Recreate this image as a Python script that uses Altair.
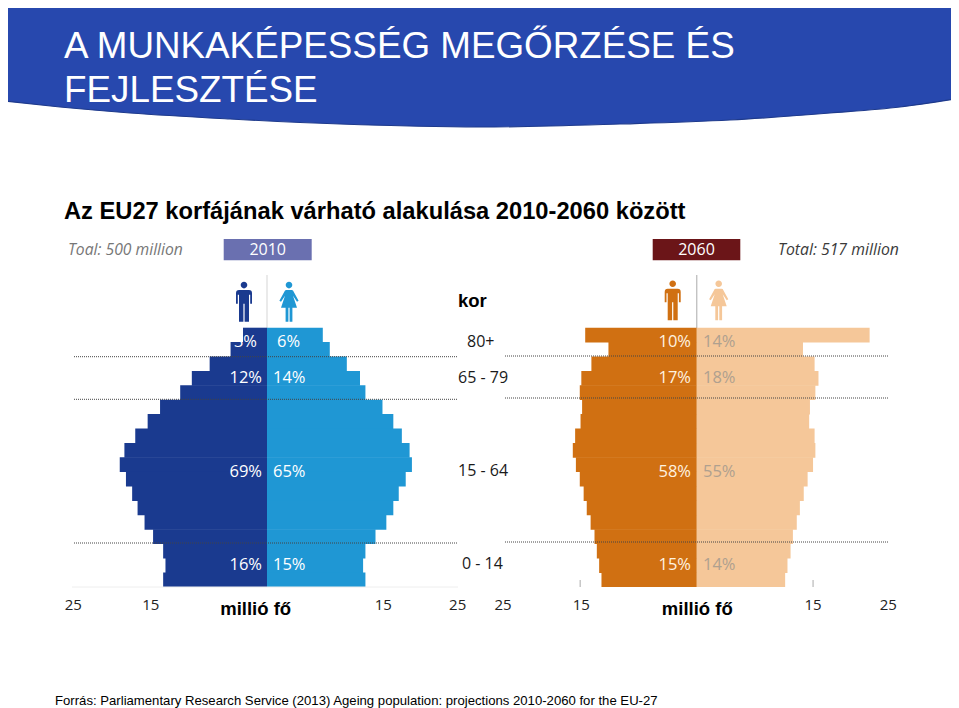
import altair as alt
import pandas as pd

# --- values (millions of people per five-year band, oldest first)
male_2010 = [3.1, 4.7, 7.4, 9.7, 11.2, 13.8, 15.4, 17.0, 18.4, 19.0, 18.2, 17.4, 16.7, 15.8, 14.7, 13.4, 13.1, 13.4]
female_2010 = [7.2, 8.1, 10.3, 12.0, 12.7, 14.9, 16.3, 17.4, 18.4, 18.7, 17.9, 17.0, 16.3, 15.4, 14.0, 12.7, 12.4, 12.7]
male_2060 = [14.4, 11.4, 13.6, 14.9, 15.1, 14.8, 15.0, 15.7, 16.0, 15.6, 15.1, 14.6, 14.2, 13.7, 13.2, 12.9, 12.6, 12.3]
female_2060 = [22.3, 13.7, 15.2, 15.7, 15.3, 14.6, 14.5, 15.2, 15.3, 15.0, 14.3, 13.8, 13.3, 12.9, 12.4, 12.1, 11.7, 11.4]

age_labels = ["80+", "65 - 79", "15 - 64", "0 - 14"]
pct_male_2010 = ["3%", "12%", "69%", "16%"]
pct_female_2010 = ["6%", "14%", "65%", "15%"]
pct_male_2060 = ["10%", "17%", "58%", "15%"]
pct_female_2060 = ["14%", "18%", "55%", "14%"]
tick_labels = ["25", "15", "15", "25"]
ticks_2010 = [-25, -15, 15, 24.6]
ticks_2060 = [-25, -14.9, 15, 24.7]

banner_x = [4, 60, 130, 230, 340, 480, 620, 730, 830, 900, 955]
banner_bottom = [101, 107, 113, 119, 124, 127, 124, 120, 113, 107, 99]

title_lines = ["A MUNKAKÉPESSÉG MEGŐRZÉSE ÉS", "FEJLESZTÉSE"]
subtitle = "Az EU27 korfájának várható alakulása 2010-2060 között"
source = "Forrás: Parliamentary Research Service (2013) Ageing population: projections 2010-2060 for the EU-27"

C_2010, C_2060 = 267.0, 696.8
PX_PER_M = 7.75
ROW_TOP, ROW_H = 327.7, 14.4
W, H = 943, 700
GRID_2010 = [356.7, 399.3, 543.0]
GRID_2060 = [356.0, 398.0, 542.0]
LABEL_Y = [342, 378, 472, 565]

SANS = "Liberation Sans"
OPEN = "Open Sans"

xs = alt.Scale(domain=[8, 8 + W], range=[0, W])
ys = alt.Scale(domain=[8 + H, 8], range=[H, 0])
X = lambda f="x": alt.X(f"{f}:Q", scale=xs, axis=None)
Y = lambda f="y": alt.Y(f"{f}:Q", scale=ys, axis=None)
X2 = alt.X2("x2:Q")
Y2 = alt.Y2("y2:Q")


def text_layer(rows, size, color, font=OPEN, align="left", weight="normal", style="normal", baseline="alphabetic"):
    return alt.Chart(pd.DataFrame(rows, columns=["x", "y", "t"])).mark_text(
        fontSize=size, color=color, font=font, align=align, fontWeight=weight,
        fontStyle=style, baseline=baseline,
    ).encode(x=X(), y=Y(), text="t:N")


def bars(values, centre, sign, color):
    rows = []
    for i, v in enumerate(values):
        rows.append({"x": centre, "x2": centre + sign * v * PX_PER_M,
                     "y": ROW_TOP + i * ROW_H, "y2": ROW_TOP + (i + 1) * ROW_H + (0.4 if i < len(values) - 1 else 0)})
    return alt.Chart(pd.DataFrame(rows)).mark_rect(color=color).encode(x=X(), x2=X2, y=Y(), y2=Y2)


def rect(x, x2, y, y2, color):
    return alt.Chart(pd.DataFrame([{"x": x, "x2": x2, "y": y, "y2": y2}])).mark_rect(color=color).encode(
        x=X(), x2=X2, y=Y(), y2=Y2)


def rule(x, x2, y, y2, color, width=1.0, dash=None):
    kw = {"strokeDash": dash} if dash else {}
    return alt.Chart(pd.DataFrame([{"x": x, "x2": x2, "y": y, "y2": y2}])).mark_rule(
        color=color, strokeWidth=width, **kw).encode(x=X(), x2=X2, y=Y(), y2=Y2)


HEAD = "M-0.165,-0.83 A0.165,0.165 0 1 1 0.165,-0.83 A0.165,0.165 0 1 1 -0.165,-0.83 Z "
MAN = HEAD + ("M-0.25,-0.58 L0.25,-0.58 Q0.4,-0.58 0.4,-0.42 L0.4,0.1 L0.31,0.1 L0.31,-0.35 L0.25,-0.35 "
              "L0.25,1 L0.03,1 L0.03,0.1 L-0.03,0.1 L-0.03,1 L-0.25,1 L-0.25,-0.35 L-0.31,-0.35 L-0.31,0.1 "
              "L-0.4,0.1 L-0.4,-0.42 Q-0.4,-0.58 -0.25,-0.58 Z")
WOMAN = HEAD + ("M-0.14,-0.58 L0.14,-0.58 L0.2,-0.56 L0.48,-0.05 L0.4,0 L0.2,-0.3 L0.4,0.3 L0.17,0.3 L0.17,1 "
                "L0.03,1 L0.03,0.3 L-0.03,0.3 L-0.03,1 L-0.17,1 L-0.17,0.3 L-0.4,0.3 L-0.2,-0.3 L-0.4,0 "
                "L-0.48,-0.05 L-0.2,-0.56 Z")


def icon(x, y, path, color):
    return alt.Chart(pd.DataFrame([{"x": x, "y": y}])).mark_point(
        shape=path, size=1600, filled=True, color=color, opacity=1, strokeWidth=0).encode(x=X(), y=Y())


layers = []

# banner
banner = pd.DataFrame({"x": banner_x, "y": banner_bottom, "y2": [1] * len(banner_x)})
layers.append(alt.Chart(banner).mark_area(color="#2748AE", interpolate="monotone", clip=True).encode(x=X(), y=Y(), y2=Y2))
layers.append(alt.Chart(banner).mark_line(color="#1E3A8C", strokeWidth=1.2, interpolate="monotone", clip=True).encode(x=X(), y=Y()))
layers.append(text_layer([(64, 58, title_lines[0]), (64, 102, title_lines[1])], 36.8, "#FFFFFF", font=SANS))
layers.append(text_layer([(64, 219, subtitle)], 23.7, "#000000", font=SANS, weight="bold"))

# header boxes
layers.append(rect(223.7, 311.7, 239, 260.3, "#6A70B0"))
layers.append(rect(652.7, 740.3, 239, 260.3, "#6B1518"))
layers.append(text_layer([(267.7, 250, "2010")], 16, "#FFFFFF", align="center", baseline="middle"))
layers.append(text_layer([(696.5, 250, "2060")], 16, "#FFFFFF", align="center", baseline="middle"))
layers.append(text_layer([(68, 250, "Toal: 500 million")], 15.7, "#777777", style="italic", baseline="middle"))
layers.append(text_layer([(778, 250, "Total: 517 million")], 15.8, "#3A3A3A", style="italic", baseline="middle"))

# centre stems
layers.append(rule(C_2010, C_2010, 275, 328, "#D5D5D5"))
layers.append(rule(C_2060, C_2060, 275, 328, "#AAAAAA"))

# icons
layers.append(icon(244, 301.7, MAN, "#1A3A8F"))
layers.append(icon(289, 301.7, WOMAN, "#1F97D4"))
layers.append(icon(672.7, 300.3, MAN, "#D07012"))
layers.append(icon(718.7, 300.3, WOMAN, "#F5C799"))

# pyramids
layers.append(bars(male_2010, C_2010, -1, "#1A3A8F"))
layers.append(bars(female_2010, C_2010, 1, "#1F97D4"))
layers.append(bars(male_2060, C_2060, -1, "#D07012"))
layers.append(bars(female_2060, C_2060, 1, "#F5C799"))

# dotted separators and baseline
for y in GRID_2010:
    layers.append(rule(74, 458, y, y, "#444444", 1, [1, 1]))
for y in GRID_2060:
    layers.append(rule(505, 889, y, y, "#444444", 1, [1, 1]))
layers.append(rule(72, 458, 587, 587, "#EEEEEE"))
layers.append(rule(C_2060 - 15 * PX_PER_M - 0.4, C_2060 - 15 * PX_PER_M - 0.4, 580, 587, "#AAAAAA"))
layers.append(rule(C_2060 + 15 * PX_PER_M, C_2060 + 15 * PX_PER_M, 580, 587, "#AAAAAA"))

# percent labels
layers.append(text_layer([(262 if i else 257, y, t) for i, (y, t) in enumerate(zip(LABEL_Y, pct_male_2010))], 16.5, "#FFFFFF", align="right", baseline="middle"))
layers.append(text_layer([(273 if i else 277, y, t) for i, (y, t) in enumerate(zip(LABEL_Y, pct_female_2010))], 16.5, "#FFFFFF", baseline="middle"))
layers.append(text_layer([(691, y, t) for y, t in zip(LABEL_Y, pct_male_2060)], 16.5, "#FFF3E0", align="right", baseline="middle"))
layers.append(text_layer([(703, y, t) for y, t in zip(LABEL_Y, pct_female_2060)], 16.5, "#AFA08F", baseline="middle"))

# age labels
layers.append(text_layer([(458, 307, "kor")], 18.5, "#000000", font=SANS, weight="bold"))
layers.append(text_layer(
    [(x, y, t) for x, y, t in zip([467, 458, 458, 462], [342, 378, 471, 564], age_labels)],
    16, "#1A1A1A", baseline="middle"))

# x tick labels
for c, ticks in ((C_2010, ticks_2010), (C_2060, ticks_2060)):
    layers.append(text_layer(
        [(c + v * PX_PER_M, 605, t) for v, t in zip(ticks, tick_labels)],
        15, "#222222", align="center", baseline="middle"))
layers.append(text_layer([(255.7, 615, "millió fő"), (697.3, 615, "millió fő")], 18.5, "#000000",
                         font=SANS, weight="bold", align="center"))

# source
layers.append(text_layer([(55, 705, source)], 13.15, "#000000", font=SANS))

chart = alt.layer(*layers).properties(
    width=W, height=H, padding=0, autosize=alt.AutoSizeParams(type="none"), background="#FFFFFF"
).configure_view(stroke=None)

chart.save("out.html", embed_options={"renderer": "svg", "actions": False})
